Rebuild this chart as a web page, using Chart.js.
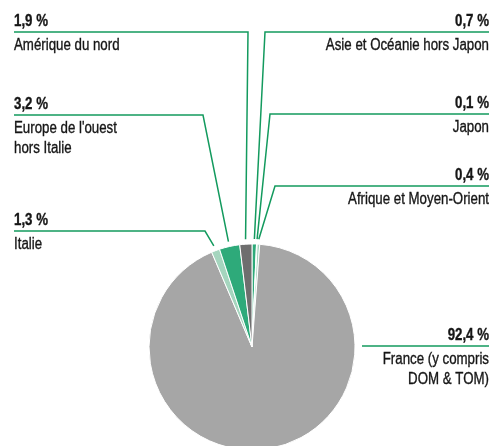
<!DOCTYPE html>
<html>
<head>
<meta charset="utf-8">
<script src="https://cdn.jsdelivr.net/npm/chart.js@4"></script>
<style>
  html, body { margin: 0; padding: 0; background: #fff; overflow: hidden; }
  #wrap { position: relative; width: 498px; height: 460px; }
</style>
</head>
<body>
<div id="wrap"><canvas id="pieChart"></canvas></div>
<script>
// slices, clockwise from 12 o'clock
const categories = [
    'Asie et Océanie hors Japon',
    'Japon',
    'Afrique et Moyen-Orient',
    'France (y compris DOM & TOM)',
    'Italie',
    "Europe de l'ouest hors Italie",
    'Amérique du nord'
];
const shares = [0.7, 0.1, 0.4, 92.4, 1.3, 3.2, 1.9];
const sliceColors = ['#2eaa7a', '#a5d5be', '#a5d5be', '#a6a6a6', '#a5d5be', '#2eaa7a', '#6e6e6e'];

// label text as printed (line breaks included)
const labelLines = [
    ['Asie et Océanie hors Japon'],
    ['Japon'],
    ['Afrique et Moyen-Orient'],
    ['France (y compris', 'DOM & TOM)'],
    ['Italie'],
    ["Europe de l'ouest", 'hors Italie'],
    ['Amérique du nord']
];

// no condensed face installed, so squeeze Liberation Sans horizontally
const FONT = '"Liberation Sans", Arial, sans-serif';
const SQUEEZE = 0.83;
const LINE_GREEN = '#139a5e';
const INK = '#161616';

// where each callout sits: side, y of the rule, x where it bends towards the pie
const callouts = [
    { side: 'right', y: 32, bend: 265 },
    { side: 'right', y: 114, bend: 270 },
    { side: 'right', y: 186, bend: 275 },
    { side: 'right', y: 346, bend: 362, straight: true },
    { side: 'left', y: 231, bend: 205 },
    { side: 'left', y: 115, bend: 203 },
    { side: 'left', y: 32, bend: 248 }
];

function formatShare(v) {
    return v.toFixed(1).replace('.', ',') + ' %';
}

// heavier look like the printed condensed face: fill plus a hairline stroke
function squeezedText(ctx, text, x, y) {
    ctx.save();
    ctx.translate(x, y);
    ctx.scale(SQUEEZE, 1);
    ctx.fillText(text, 0, 0);
    ctx.strokeStyle = INK;
    ctx.lineWidth = 0.35;
    ctx.strokeText(text, 0, 0);
    ctx.restore();
}

const calloutPlugin = {
    id: 'callouts',
    afterDatasetsDraw(chart) {
        const ctx = chart.ctx;
        const arcs = chart.getDatasetMeta(0).data;
        ctx.save();
        arcs.forEach((arc, i) => {
            const c = callouts[i];
            if (!c) return;
            const p = arc.getProps(['x', 'y', 'startAngle', 'endAngle', 'outerRadius'], true);
            const mid = (p.startAngle + p.endAngle) / 2;
            const r = p.outerRadius + 5;
            const px = p.x + Math.cos(mid) * r;
            const py = p.y + Math.sin(mid) * r;
            const edgeX = c.side === 'left' ? 14 : 489;

            ctx.strokeStyle = LINE_GREEN;
            ctx.lineWidth = 1.5;
            ctx.beginPath();
            if (c.straight) {
                ctx.moveTo(c.bend, c.y);
            } else {
                ctx.moveTo(px, py);
                ctx.lineTo(c.bend, c.y);
            }
            ctx.lineTo(edgeX, c.y);
            ctx.stroke();

            ctx.fillStyle = INK;
            ctx.textAlign = c.side === 'left' ? 'left' : 'right';
            ctx.textBaseline = 'alphabetic';
            ctx.font = 'bold 16px ' + FONT;
            squeezedText(ctx, formatShare(shares[i]), edgeX, c.y - 6);
            ctx.font = '16px ' + FONT;
            labelLines[i].forEach((line, k) => {
                squeezedText(ctx, line, edgeX, c.y + 18 + k * 20);
            });
        });
        ctx.restore();
    }
};

new Chart(document.getElementById('pieChart'), {
    type: 'pie',
    data: {
        labels: categories,
        datasets: [{
            data: shares,
            backgroundColor: sliceColors,
            borderColor: '#ffffff',
            borderWidth: 1
        }]
    },
    options: {
        responsive: true,
        maintainAspectRatio: false,
        animation: false,
        layout: {
            padding: { left: 148.5, right: 142.5, top: 243.5, bottom: 9.5 }
        },
        plugins: {
            legend: { display: false },
            tooltip: { enabled: false }
        }
    },
    plugins: [calloutPlugin]
});
</script>
</body>
</html>
